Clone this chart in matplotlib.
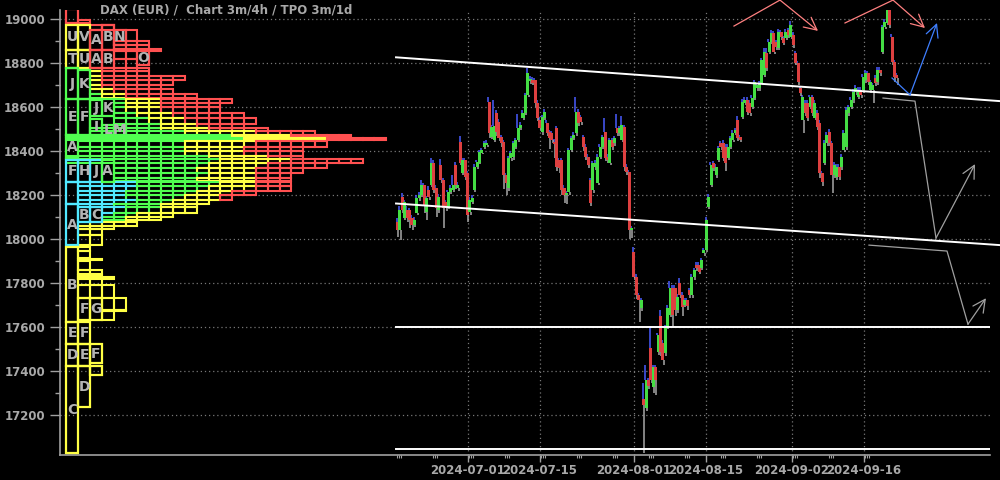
import numpy as np
import matplotlib.pyplot as plt
from matplotlib.patches import Rectangle

# 4h candles, Jun 17 - Sep 20 2024
opens = [18077, 18041, 18191, 18095, 18132, 18132, 18095, 18064, 18118, 18186,
         18200, 18245, 18123, 18223, 18245, 18345, 18232, 18132, 18336, 18268,
         18168, 18145, 18214, 18223, 18336, 18232, 18441, 18300, 18359, 18300,
         18123, 18168, 18223, 18327, 18345, 18391, 18418, 18427, 18623, 18464,
         18450, 18573, 18532, 18464, 18441, 18291, 18232, 18368, 18373, 18418,
         18450, 18505, 18550, 18573, 18654, 18718, 18723, 18723, 18618, 18541,
         18486, 18550, 18527, 18486, 18482, 18441, 18505, 18359, 18359, 18232,
         18200, 18214, 18405, 18459, 18482, 18577, 18555, 18464, 18418, 18373,
         18268, 18223, 18327, 18255, 18373, 18418, 18486, 18373, 18345, 18450,
         18436, 18505, 18482, 18450, 18509, 18327, 18304, 18041, 17941, 17827,
         17745, 17686, 17273, 17232, 17359, 17505, 17327, 17418, 17486, 17650,
         17527, 17482, 17600, 17655, 17777, 17777, 17677, 17800, 17745, 17700,
         17723, 17768, 17745, 17827, 17882, 17882, 17868, 17936, 17950, 18145,
         18245, 18345, 18291, 18359, 18436, 18436, 18418, 18368, 18418, 18450,
         18482, 18541, 18464, 18555, 18618, 18632, 18618, 18600, 18641, 18686,
         18686, 18709, 18745, 18845, 18850, 18895, 18936, 18895, 18868, 18941,
         18914, 18914, 18950, 18918, 18927, 18845, 18800, 18686, 18541, 18618,
         18618, 18600, 18645, 18550, 18573, 18527, 18300, 18345, 18436, 18486,
         18436, 18291, 18282, 18327, 18327, 18405, 18418, 18573, 18600, 18632,
         18668, 18645, 18677, 18677, 18723, 18755, 18677, 18677, 18732, 18714,
         18768, 18850, 18963, 18982, 19041, 18918, 18804, 18745]
closes = [18041, 18132, 18132, 18168, 18095, 18086, 18064, 18086, 18186, 18200,
          18245, 18154, 18186, 18191, 18345, 18223, 18141, 18191, 18268, 18141,
          18141, 18214, 18232, 18245, 18245, 18245, 18345, 18359, 18282, 18109,
          18177, 18186, 18327, 18350, 18395, 18405, 18436, 18436, 18482, 18509,
          18514, 18486, 18459, 18436, 18291, 18255, 18368, 18391, 18436, 18450,
          18505, 18518, 18573, 18654, 18755, 18723, 18709, 18618, 18550, 18505,
          18555, 18577, 18482, 18459, 18450, 18436, 18327, 18323, 18223, 18200,
          18209, 18405, 18459, 18473, 18577, 18527, 18532, 18418, 18373, 18336,
          18163, 18345, 18345, 18373, 18418, 18464, 18368, 18359, 18450, 18418,
          18459, 18482, 18505, 18518, 18327, 18304, 18041, 18050, 17827, 17745,
          17723, 17723, 17245, 17359, 17332, 17359, 17418, 17359, 17564, 17486,
          17450, 17595, 17686, 17777, 17655, 17677, 17736, 17745, 17691, 17723,
          17695, 17745, 17827, 17859, 17868, 17850, 17905, 17950, 18086, 18191,
          18336, 18323, 18327, 18414, 18418, 18368, 18345, 18418, 18459, 18482,
          18495, 18459, 18450, 18623, 18632, 18577, 18573, 18641, 18714, 18700,
          18709, 18814, 18850, 18777, 18895, 18936, 18850, 18873, 18941, 18918,
          18891, 18941, 18927, 18973, 18882, 18800, 18714, 18664, 18645, 18573,
          18550, 18645, 18573, 18618, 18509, 18300, 18259, 18436, 18473, 18436,
          18291, 18336, 18327, 18282, 18373, 18482, 18586, 18600, 18632, 18668,
          18686, 18677, 18654, 18736, 18755, 18714, 18714, 18700, 18709, 18768,
          18755, 18963, 18986, 19045, 18973, 18804, 18736, 18732]
highs = [18095, 18150, 18210, 18180, 18150, 18140, 18110, 18100, 18200, 18215,
         18270, 18255, 18195, 18240, 18370, 18360, 18245, 18205, 18365, 18280,
         18180, 18225, 18245, 18290, 18350, 18260, 18470, 18370, 18370, 18310,
         18190, 18200, 18340, 18360, 18405, 18415, 18445, 18450, 18645, 18520,
         18630, 18585, 18545, 18475, 18450, 18300, 18380, 18400, 18445, 18460,
         18570, 18530, 18585, 18665, 18777, 18740, 18735, 18730, 18630, 18555,
         18565, 18590, 18540, 18495, 18490, 18455, 18515, 18370, 18370, 18245,
         18220, 18415, 18470, 18485, 18645, 18590, 18565, 18475, 18430, 18385,
         18280, 18355, 18360, 18385, 18430, 18475, 18550, 18385, 18460, 18460,
         18470, 18570, 18515, 18560, 18520, 18340, 18315, 18060, 17964, 17840,
         17755, 17735, 17345, 17427, 17370, 17600, 17430, 17430, 17575, 17677,
         17540, 17610, 17700, 17810, 17790, 17790, 17750, 17825, 17760, 17735,
         17735, 17780, 17840, 17870, 17895, 17895, 17915, 17960, 18100, 18205,
         18350, 18355, 18340, 18425, 18445, 18450, 18430, 18430, 18470, 18495,
         18505, 18560, 18475, 18635, 18645, 18645, 18630, 18655, 18725, 18710,
         18720, 18825, 18870, 18870, 18910, 18950, 18945, 18905, 18955, 18950,
         18925, 18955, 18960, 18990, 18940, 18855, 18810, 18695, 18655, 18630,
         18630, 18655, 18655, 18630, 18585, 18540, 18310, 18450, 18485, 18500,
         18445, 18350, 18340, 18340, 18385, 18495, 18600, 18610, 18645, 18680,
         18700, 18690, 18690, 18750, 18770, 18765, 18725, 18710, 18745, 18780,
         18780, 18975, 19000, 19050, 19050, 18930, 18815, 18755]
lows = [18010, 17995, 18120, 18085, 18080, 18050, 18040, 18055, 18110, 18175,
        18190, 18120, 18085, 18180, 18235, 18210, 18100, 18120, 18255, 18050,
        18130, 18135, 18205, 18215, 18230, 18220, 18335, 18290, 18270, 18080,
        18110, 18160, 18215, 18320, 18340, 18385, 18410, 18420, 18460, 18455,
        18440, 18470, 18445, 18420, 18230, 18200, 18220, 18355, 18360, 18410,
        18440, 18495, 18540, 18565, 18645, 18705, 18700, 18600, 18535, 18490,
        18475, 18540, 18470, 18410, 18435, 18370, 18310, 18300, 18200, 18165,
        18160, 18200, 18395, 18450, 18470, 18515, 18520, 18400, 18360, 18325,
        18150, 18210, 18315, 18245, 18365, 18410, 18355, 18345, 18335, 18405,
        18425, 18470, 18470, 18440, 18310, 18290, 18000, 18005, 17815, 17730,
        17623, 17675, 17027, 17220, 17320, 17345, 17300, 17290, 17475, 17470,
        17430, 17470, 17590, 17645, 17600, 17650, 17665, 17735, 17650, 17690,
        17680, 17735, 17735, 17815, 17855, 17840, 17860, 17925, 17940, 18135,
        18235, 18310, 18280, 18350, 18405, 18355, 18310, 18360, 18410, 18440,
        18475, 18445, 18440, 18545, 18610, 18565, 18560, 18590, 18630, 18675,
        18675, 18700, 18735, 18765, 18840, 18885, 18840, 18860, 18860, 18905,
        18880, 18905, 18915, 18910, 18870, 18790, 18700, 18650, 18482, 18560,
        18535, 18590, 18560, 18540, 18495, 18280, 18240, 18335, 18425, 18425,
        18209, 18280, 18270, 18270, 18315, 18395, 18405, 18560, 18590, 18620,
        18655, 18635, 18640, 18665, 18710, 18700, 18665, 18620, 18695, 18700,
        18740, 18840, 18955, 18975, 18960, 18790, 18714, 18700]

# trading-day axis: 0 = 2024-07-01
first_day, last_day = -9.79, 59.58
tick_days = [0, 10, 23, 33, 45, 55]
tick_labels = ['2024-07-01', '2024-07-15', '2024-08-01',
               '2024-08-15', '2024-09-02', '2024-09-16']
mondays = [-10, -5, 0, 5, 10, 15, 20, 25, 30, 35, 40, 45, 50, 55]

# drawn lines
channel_days = [-10, 73.9]
channel_upper = [18826, 18627]
channel_lower = [18162, 17973]
level_prices = [17600, 17049]
level_days = [-10, 72.5]

pink_a = ([36.94, 43.33, 48.61], [18968, 19086, 18946])
pink_b = ([52.36, 59.03, 63.47], [18982, 19086, 18959])
blue_path = ([58.89, 61.39, 65.14], [18732, 18655, 18982])
grey_a = ([57.64, 62.08, 65.0, 70.42], [18641, 18627, 18005, 18341])
grey_b = ([55.69, 66.53, 69.44, 71.94], [17973, 17946, 17614, 17732])

# TPO profile: lettered periods (column, low, high, letter, colour)
letter_boxes = [
    (0, 18980, 19044, '', 'r'),
    (0, 18859, 18973, 'U', 'y'), (1, 18859, 18973, 'V', 'y'),
    (2, 18859, 18950, 'A', 'r'), (3, 18859, 18973, 'B', 'r'),
    (4, 18882, 18950, 'N', 'r'),
    (0, 18777, 18859, 'T', 'y'), (1, 18777, 18859, 'U', 'y'),
    (2, 18777, 18859, 'A', 'r'), (3, 18777, 18859, 'B', 'r'),
    (6, 18790, 18859, 'O', 'r'),
    (0, 18636, 18777, 'J', 'g'), (1, 18636, 18770, 'K', 'g'),
    (0, 18473, 18636, 'E', 'g'), (1, 18473, 18636, 'F', 'g'),
    (2, 18560, 18630, 'J', 'g'), (2, 18473, 18545, 'I', 'g'),
    (3, 18560, 18636, 'K', 'g'), (3, 18473, 18520, 'L', 'g'),
    (4, 18473, 18520, 'M', 'g'),
    (0, 18368, 18473, 'A', 'g'),
    (0, 18259, 18359, 'F', 'c'), (1, 18259, 18359, 'H', 'c'),
    (2, 18259, 18359, 'J', 'c'), (3, 18259, 18359, 'A', 'g'),
    (0, 18160, 18259, '', 'c'),
    (0, 17973, 18159, 'A', 'c'), (1, 18077, 18146, 'B', 'c'),
    (2, 18077, 18146, 'C', 'c'),
    (0, 17623, 17964, 'B', 'y'),
    (1, 17632, 17732, 'F', 'y'), (2, 17632, 17732, 'G', 'y'),
    (0, 17523, 17623, 'E', 'y'), (1, 17523, 17623, 'F', 'y'),
    (0, 17423, 17523, 'D', 'y'), (1, 17423, 17523, 'E', 'y'),
    (2, 17436, 17523, 'F', 'y'),
    (0, 17027, 17423, 'C', 'y'), (1, 17236, 17423, 'D', 'y'),
    (2, 17384, 17423, '', 'y'),
]

# TPO profile rows: (low, high, first column, cyan, green, yellow, red counts)
profile_rows = [
    (18980, 18995, 1, 0, 0, 0, 1),
    (18950, 18973, 2, 0, 0, 0, 2),
    (18900, 18950, 5, 0, 0, 0, 1),
    (18882, 18900, 4, 0, 0, 0, 3),
    (18862, 18882, 4, 0, 0, 0, 3),
    (18855, 18862, 4, 0, 0, 0, 4),
    (18820, 18855, 4, 0, 0, 0, 2),
    (18777, 18820, 4, 0, 0, 0, 2),
    (18765, 18777, 2, 0, 0, 1, 4),
    (18740, 18765, 2, 0, 0, 1, 4),
    (18725, 18740, 2, 0, 0, 1, 7),
    (18700, 18725, 2, 0, 0, 1, 6),
    (18680, 18700, 2, 0, 0, 1, 5),
    (18660, 18680, 2, 0, 0, 2, 5),
    (18640, 18660, 2, 0, 1, 2, 6),
    (18620, 18636, 4, 0, 1, 3, 6),
    (18600, 18620, 4, 0, 1, 3, 5),
    (18575, 18600, 4, 0, 1, 3, 5),
    (18550, 18575, 4, 0, 2, 3, 6),
    (18525, 18550, 4, 0, 3, 3, 6),
    (18505, 18525, 5, 0, 3, 3, 4),
    (18490, 18505, 2, 0, 6, 4, 5),
    (18475, 18490, 2, 0, 8, 6, 5),
    (18462, 18475, 0, 0, 14, 5, 5),
    (18450, 18458, 0, 0, 15, 7, 5),
    (18420, 18448, 1, 0, 9, 6, 6),
    (18400, 18420, 1, 0, 9, 5, 5),
    (18380, 18400, 1, 0, 9, 5, 5),
    (18365, 18380, 0, 0, 12, 5, 3),
    (18345, 18362, 0, 0, 13, 6, 6),
    (18325, 18345, 4, 0, 8, 5, 5),
    (18300, 18325, 4, 0, 7, 5, 4),
    (18280, 18300, 4, 0, 8, 4, 3),
    (18262, 18280, 4, 0, 7, 5, 3),
    (18240, 18259, 1, 5, 7, 3, 3),
    (18220, 18240, 1, 5, 6, 4, 3),
    (18200, 18220, 1, 4, 6, 3, 2),
    (18180, 18200, 1, 4, 5, 3, 1),
    (18160, 18180, 1, 5, 3, 3, 0),
    (18146, 18160, 1, 3, 4, 3, 0),
    (18120, 18144, 3, 2, 3, 3, 0),
    (18100, 18120, 3, 1, 2, 3, 0),
    (18085, 18100, 3, 0, 2, 3, 0),
    (18060, 18077, 1, 0, 1, 4, 0),
    (18045, 18060, 1, 0, 0, 3, 0),
    (18020, 18045, 1, 0, 0, 2, 0),
    (17975, 18020, 1, 0, 0, 2, 0),
    (17945, 17965, 1, 0, 0, 1, 0),
    (17915, 17945, 1, 0, 0, 1, 0),
    (17905, 17912, 1, 0, 0, 2, 0),
    (17860, 17900, 1, 0, 0, 1, 0),
    (17840, 17860, 1, 0, 0, 2, 0),
    (17820, 17826, 1, 0, 0, 3, 0),
    (17790, 17838, 1, 0, 0, 2, 0),
    (17735, 17790, 1, 0, 0, 3, 0),
    (17680, 17735, 3, 0, 0, 2, 0),
    (17674, 17680, 3, 0, 0, 2, 0),
    (17632, 17674, 3, 0, 0, 1, 0),
]

RED = '#ff5050'
YEL = '#ffff45'
GRN = '#50ff50'
CYA = '#50e8ff'
tpo_col = {'r': RED, 'y': YEL, 'g': GRN, 'c': CYA}
TXT = '#a8a8a8'
AXC = '#a0a0a0'

fig = plt.figure(figsize=(10, 4.8), dpi=100, facecolor='black')
ax = fig.add_axes([0.06, 25 / 480, 0.93, 445 / 480])
ax.set_facecolor('black')
ax.set_xlim(-56.67, 72.5)
ax.set_ylim(17019.7, 19040.9)

# grid
ax.grid(True, which='major', color='#777777', linestyle=(0, (1, 2.3)), linewidth=0.9)
ax.set_axisbelow(True)

# candles
o = np.array(opens, float)
c = np.array(closes, float)
h = np.array(highs, float)
l = np.array(lows, float)
x = np.linspace(first_day, last_day, len(c))
up = c >= o
body = np.where(np.abs(c - o) < 10, np.where(up, 10, -10), c - o)
ax.vlines(x - 0.1, np.maximum(o, c), h, color='#4a5cff', lw=1.1, zorder=3)
ax.vlines(x + 0.1, l, np.minimum(o, c), color='#a8a8a8', lw=1.1, zorder=3)
ax.bar(x, body, bottom=o, width=0.42, color=np.where(up, '#44dd44', '#dd4040'),
       linewidth=0, zorder=4)

# channel and levels
ax.plot(channel_days, channel_upper, color='white', lw=1.4, clip_on=False, zorder=5)
ax.plot(channel_days, channel_lower, color='white', lw=1.4, clip_on=False, zorder=5)
for p in level_prices:
    ax.plot(level_days, [p, p], color='white', lw=1.4, zorder=5)


def path_arrow(xs, ys, color):
    ax.plot(xs[:-1], ys[:-1], color=color, lw=0.9, clip_on=False, zorder=6)
    ax.annotate('', xy=(xs[-1], ys[-1]), xytext=(xs[-2], ys[-2]),
                arrowprops=dict(arrowstyle='->,head_length=0.9,head_width=0.45',
                                color=color, lw=0.9, shrinkA=0, shrinkB=0),
                annotation_clip=False, zorder=6)


path_arrow(*pink_a, '#ff8080')
path_arrow(*pink_b, '#ff8080')
path_arrow(*blue_path, '#3f7fff')
path_arrow(*grey_a, '#a0a0a0')
path_arrow(*grey_b, '#a0a0a0')

# axes styling
for s in ['top', 'right']:
    ax.spines[s].set_visible(False)
for s in ['left', 'bottom']:
    ax.spines[s].set_color(AXC)
    ax.spines[s].set_linewidth(1.2)

ax.set_yticks(np.arange(17200, 19001, 200))
ax.set_yticks(np.arange(17300, 18901, 200), minor=True)
ax.set_xticks(tick_days)
ax.set_xticklabels(tick_labels)
ax.set_xticks([m + d for m in mondays for d in (0.2, 0.45, 0.7)], minor=True)
ax.tick_params(axis='y', which='major', length=7.2, width=1, color=AXC,
               labelcolor=TXT, labelsize=8.5, pad=3.6)
ax.tick_params(axis='y', which='minor', length=3.6, width=1, color=AXC)
ax.tick_params(axis='x', which='major', length=5, width=1, color=AXC,
               labelcolor=TXT, labelsize=8.5, pad=1.5)
ax.tick_params(axis='x', which='minor', length=2.2, width=0.8, color=AXC)
for lbl in ax.get_yticklabels() + ax.get_xticklabels():
    lbl.set_fontweight('bold')

# TPO profile on its own x scale (one unit = one TPO column)
axp = ax.twiny()
axp.set_xlim(-0.532, 77.95)
axp.axis('off')

for lo, hi, start, nc, ng, ny, nr in profile_rows:
    col = start
    for key, cnt in zip('cgyr', (nc, ng, ny, nr)):
        for k in range(cnt):
            axp.add_patch(Rectangle((col, lo), 1, hi - lo, fill=False,
                                    edgecolor=tpo_col[key], lw=1.5))
            col += 1

for col, lo, hi, letter, key in letter_boxes:
    axp.add_patch(Rectangle((col, lo), 1, hi - lo, fill=False,
                            edgecolor=tpo_col[key], lw=1.6))
    if letter:
        axp.text(col + 0.5, (lo + hi) / 2, letter, ha='center', va='center',
                 color='#b4b4b4', fontsize=10, fontweight='bold')

fig.text(0.1, 1 - 10 / 480, 'DAX (EUR) /  Chart 3m/4h / TPO 3m/1d', color=TXT,
         fontsize=8.5, fontweight='bold', ha='left', va='center')

fig.savefig('out.png', dpi=100, facecolor='black')
